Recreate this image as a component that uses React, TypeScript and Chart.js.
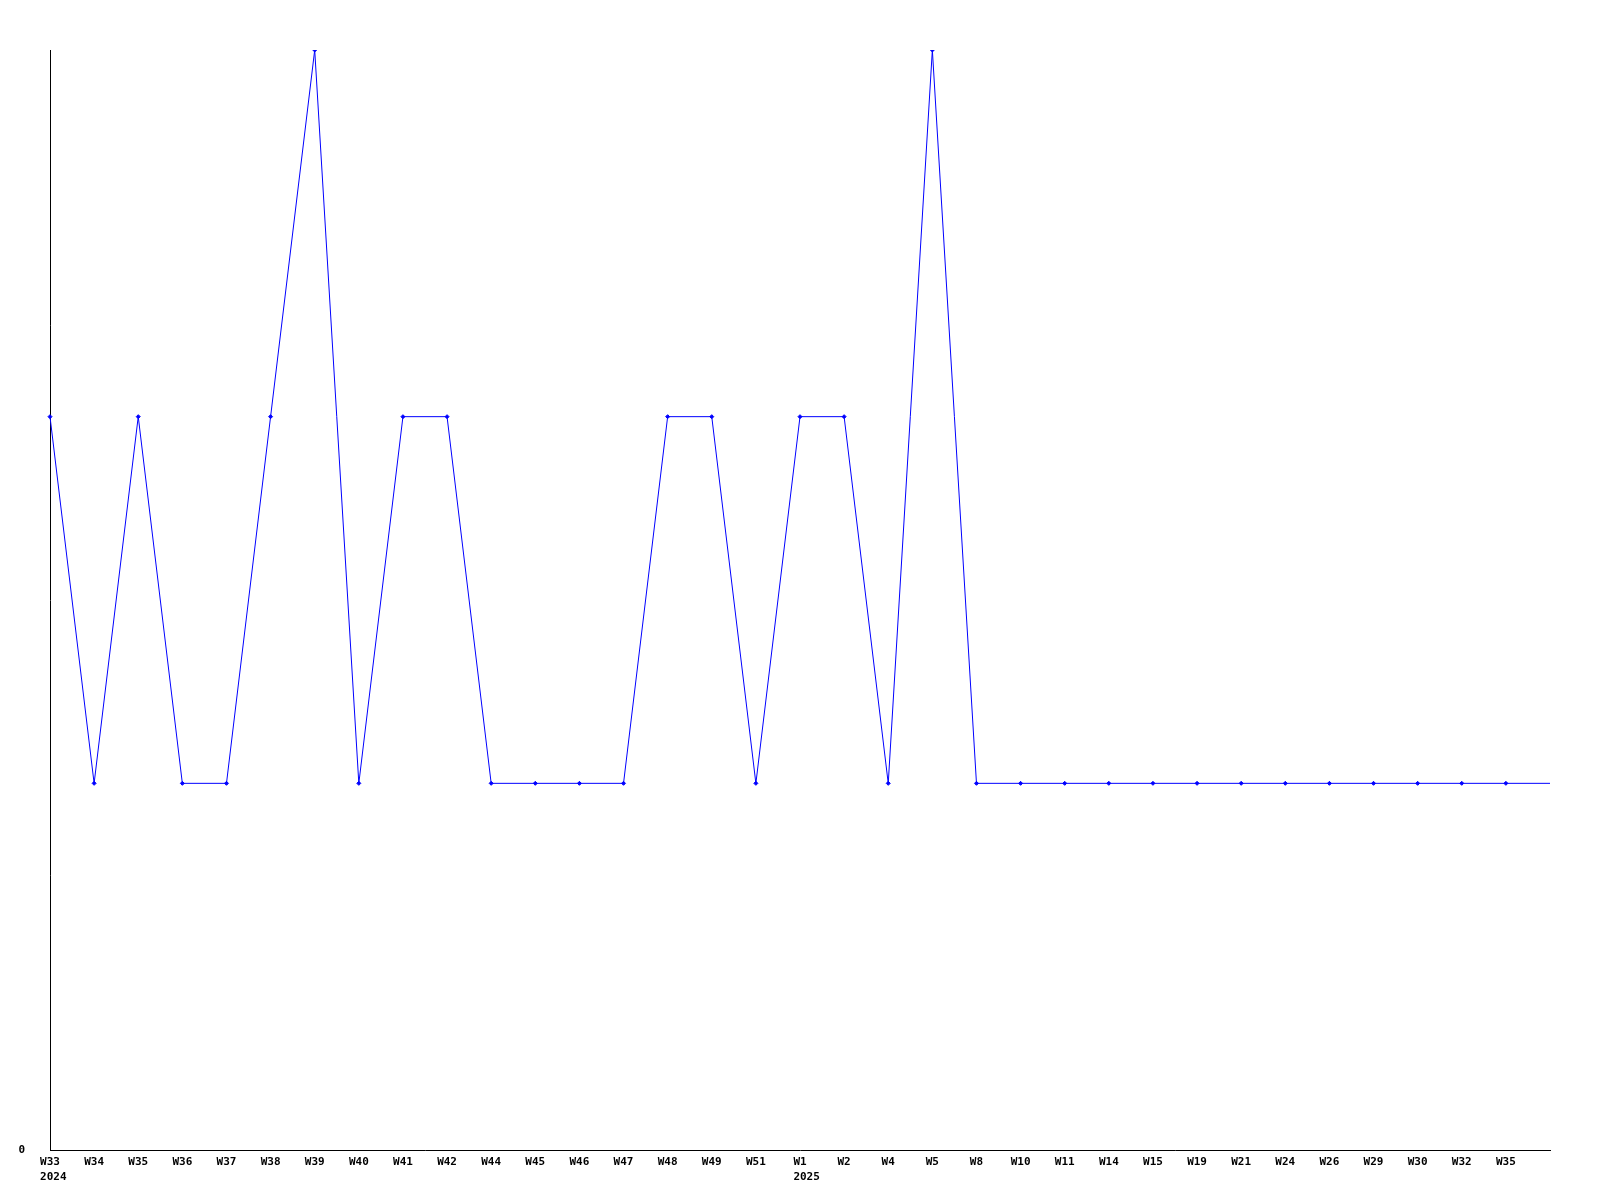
import React, { useEffect, useRef } from "react";
import { Chart, registerables } from "chart.js";

Chart.register(...registerables);

const weekLabels: string[] = [
  "W33", "W34", "W35", "W36", "W37", "W38", "W39", "W40", "W41", "W42",
  "W44", "W45", "W46", "W47", "W48", "W49", "W51", "W1", "W2", "W4",
  "W5", "W8", "W10", "W11", "W14", "W15", "W19", "W21", "W24", "W26",
  "W29", "W30", "W32", "W35", "",
];
const yearLabelIndex: number[] = [0, 17];
const yearLabelText: string[] = ["2024", "2025"];
const values: number[] = [
  2, 1, 2, 1, 1, 2, 3, 1, 2, 2,
  1, 1, 1, 1, 2, 2, 1, 2, 2, 1,
  3, 1, 1, 1, 1, 1, 1, 1, 1, 1,
  1, 1, 1, 1, 1,
];
const yMin = 0;
const yMax = 3;

const FONT_FAMILY = "'DejaVu Sans Mono', monospace";
const FONT_SIZE = 11;

export default function App() {
  const ref = useRef<HTMLCanvasElement | null>(null);
  useEffect(() => {
    if (!ref.current) return;
    const font = { family: FONT_FAMILY, size: FONT_SIZE, weight: "bold" as const };
    const yearPlugin = {
      id: "yearLabels",
      afterDraw(chart: any) {
        const ctx = chart.ctx;
        const xs = chart.scales.x;
        ctx.save();
        ctx.font = `bold ${FONT_SIZE}px ${FONT_FAMILY}`;
        ctx.fillStyle = "#000000";
        ctx.textAlign = "left";
        ctx.textBaseline = "middle";
        yearLabelIndex.forEach((idx, k) => {
          const px = xs.getPixelForValue(idx);
          const w = ctx.measureText(weekLabels[idx]).width;
          ctx.fillText(yearLabelText[k], px - w / 2, xs.top + 27);
        });
        ctx.restore();
      },
    };
    const pointRadii = values.map((_, i) => (weekLabels[i] === "" ? 0 : 2));
    const chart = new Chart(ref.current, {
      type: "line",
      data: {
        labels: weekLabels,
        datasets: [
          {
            data: values,
            borderColor: "#0000ff",
            backgroundColor: "#0000ff",
            borderWidth: 1,
            pointStyle: "rectRot",
            pointRadius: pointRadii,
            pointBorderWidth: 1,
            tension: 0,
          },
        ],
      },
      options: {
        animation: false,
        responsive: false,
        maintainAspectRatio: false,
        layout: { padding: { top: 50, right: 50, bottom: 0, left: 0 } },
        plugins: { legend: { display: false }, tooltip: { enabled: false } },
        scales: {
          x: {
            offset: false,
            grid: { display: false, drawTicks: false },
            border: { display: true, color: "#000000", width: 1 },
            ticks: {
              color: "#000000",
              font,
              padding: 6,
              maxRotation: 0,
              autoSkip: false,
            },
            afterFit: (s: any) => {
              s.height = 50;
            },
          },
          y: {
            min: yMin,
            max: yMax,
            grid: { display: false, drawTicks: false },
            border: { display: true, color: "#000000", width: 1 },
            ticks: {
              color: "#000000",
              font,
              padding: 25,
              stepSize: 1,
              callback: (v: any) => (v === 0 ? "0" : ""),
            },
            afterFit: (s: any) => {
              s.width = 50;
            },
          },
        },
      },
      plugins: [yearPlugin],
    });
    return () => chart.destroy();
  }, []);
  return (
    <div style={{ position: "fixed", left: 0, top: 0, width: 1600, height: 1200, background: "#fff" }}>
      <canvas ref={ref} width={1600} height={1200} style={{ width: 1600, height: 1200 }} />
    </div>
  );
}
